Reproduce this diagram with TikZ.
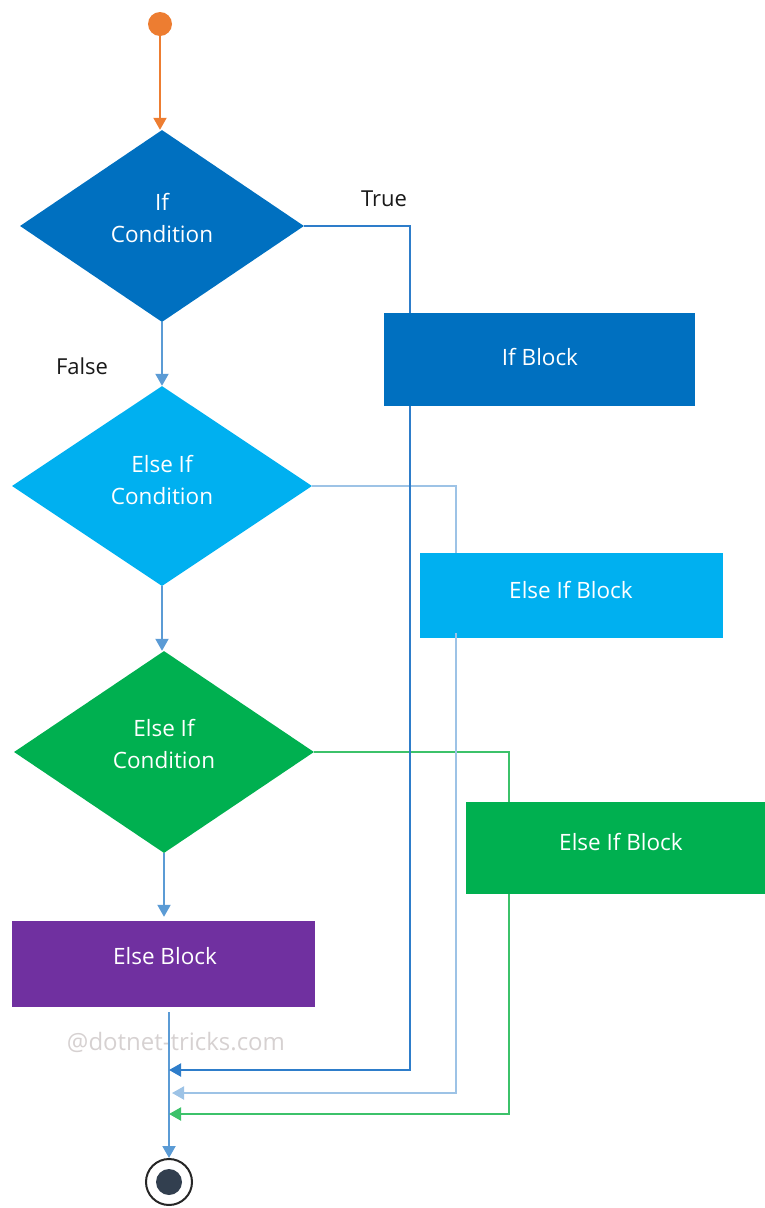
\documentclass[tikz,border=0pt]{standalone}
\usepackage{fontspec}
\setmainfont{Open Sans}
\usetikzlibrary{shapes.geometric,arrows.meta}
\definecolor{corange}{HTML}{ED7D31}
\definecolor{cblue}{HTML}{0070C0}
\definecolor{ccyan}{HTML}{00B0F0}
\definecolor{cgreen}{HTML}{00B050}
\definecolor{cpurple}{HTML}{7030A0}
\definecolor{lblue}{HTML}{5B9BD5}
\definecolor{dblue}{HTML}{2E7DCA}
\definecolor{pblue}{HTML}{9DC3E6}
\definecolor{lgreen}{HTML}{3CC26A}
\definecolor{cdark}{HTML}{323F4F}
\definecolor{wmark}{HTML}{D6D1D1}
\begin{document}
\begin{tikzpicture}[x=1pt,y=-1pt,
  txt/.style={font=\fontsize{22.5}{32}\selectfont, text=white, align=center, inner sep=0},
  lab/.style={font=\fontsize{22}{32}\selectfont, text=black!90, inner sep=0},
  dia/.style={diamond, draw=none, inner sep=0, aspect=1.5},
  blk/.style={rectangle, draw=none, inner sep=0},
  conn/.style={line width=2pt},
  tip/.style={-{Triangle[width=13pt,length=12pt]}}
]
\useasboundingbox (0,0) rectangle (765,1208);

% start
\node[circle, fill=corange, minimum size=24pt, inner sep=0] (st) at (160,24) {};

% diamonds
\node[dia, fill=cblue, minimum width=284pt, minimum height=192pt] (d1) at (162,226) {};
\node[txt] (d1t) at (162,218) {If\\Condition};
\node[dia, fill=ccyan, minimum width=300pt, minimum height=200pt] (d2) at (162,486) {};
\node[txt] (d2t) at (162,480) {Else If\\Condition};
\node[dia, fill=cgreen, minimum width=300pt, minimum height=202pt] (d3) at (164,752) {};
\node[txt] (d3t) at (164,744) {Else If\\Condition};

% blocks
\node[blk, fill=cblue, minimum width=311pt, minimum height=93pt] (b1) at (539.5,359.5) {};
\node[txt] (b1t) at (540,357) {If Block};
\node[blk, fill=ccyan, minimum width=303pt, minimum height=85pt] (b2) at (571.5,595.5) {};
\node[txt] (b2t) at (571,590) {Else If Block};
\node[blk, fill=cgreen, minimum width=299pt, minimum height=92pt] (b3) at (615.5,848) {};
\node[txt] (b3t) at (621,842) {Else If Block};
\node[blk, fill=cpurple, minimum width=303pt, minimum height=86pt] (b4) at (163.5,964) {};
\node[txt] (b4t) at (165,956) {Else Block};

% end
\node[circle, draw=black!85, line width=2pt, fill=white, minimum size=46pt, inner sep=0] (en) at (169,1182) {};
\node[circle, fill=cdark, minimum size=26pt, inner sep=0] (enc) at (en.center) {};

% labels
\node[lab] (ltrue) at (384,199) {True};
\node[lab] (lfalse) at (82,366) {False};
\node[font=\fontsize{24}{32}\selectfont, text=wmark, inner sep=0] (wm) at (176,1042) {@dotnet-tricks.com};

% coordinates for routing
\coordinate (r1) at (410,1070);
\coordinate (r2) at (456,1093);
\coordinate (r3) at (509,1114);
\coordinate (mx) at (169,1012);

% main flow
\draw[conn, corange, tip] (st) -- (st |- d1.north);
\draw[conn, lblue, tip] (d1.south) -- (d2.north);
\draw[conn, lblue, tip] (d2.south) -- (d3.north -| d2.south);
\draw[conn, lblue, tip, shorten >=4pt] (d3.south) -- (b4.north -| d3.south);
\draw[conn, lblue, tip] (mx) -- (en.north);

% branches
\draw[conn, dblue] (d1.east) -| (b1.north -| r1);
\draw[conn, pblue] (d2.east) -| (b2.north -| r2);
\draw[conn, lgreen] (d3.east) -| (b3.north -| r3);

% returns
\draw[conn, dblue, tip] (b1.south -| r1) -- (r1) -- (r1 -| mx);
\draw[conn, pblue, tip, shorten >=3pt] ([yshift=5pt]b2.south -| r2) -- (r2) -- (r2 -| mx);
\draw[conn, lgreen, tip] (b3.south -| r3) -- (r3) -- (r3 -| mx);
\end{tikzpicture}
\end{document}
